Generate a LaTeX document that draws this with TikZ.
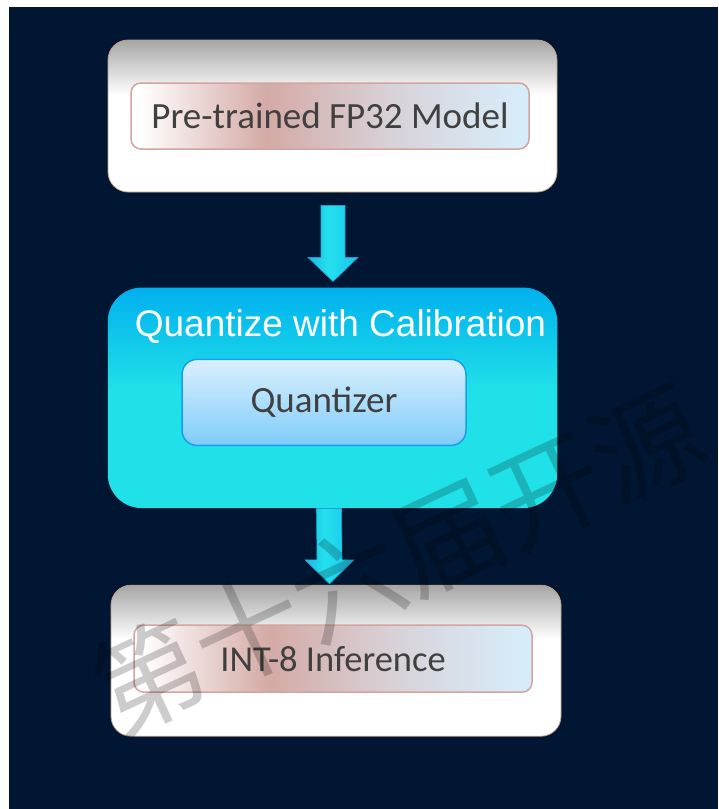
\documentclass[tikz,border=0pt]{standalone}
\usepackage{fontspec}
\setmainfont{Carlito}
\newfontfamily\titlefont{Liberation Sans}
\newfontfamily\cjkfont{Noto Sans CJK SC}
\usetikzlibrary{positioning, calc}

\definecolor{navy}{RGB}{0,22,50}
\definecolor{shadegray}{RGB}{166,166,166}
\definecolor{tanline}{RGB}{196,160,128}
\definecolor{rosy}{RGB}{212,170,165}
\definecolor{rosymid}{RGB}{216,208,214}
\definecolor{bluegray}{RGB}{216,224,234}
\definecolor{paleblue}{RGB}{214,238,250}
\definecolor{rosyline}{RGB}{212,164,160}
\definecolor{textgray}{RGB}{64,64,64}
\definecolor{cyantop}{RGB}{0,176,238}
\definecolor{cyanlow}{RGB}{32,224,232}
\definecolor{quanttop}{RGB}{218,240,252}
\definecolor{quantlow}{RGB}{128,204,250}
\definecolor{quantline}{RGB}{26,156,242}
\definecolor{arrowl}{RGB}{24,184,228}
\definecolor{arrowm}{RGB}{36,224,238}
\definecolor{arrowr}{RGB}{26,196,236}
\definecolor{arrowline}{RGB}{26,168,220}

\pgfdeclareverticalshading{outershade}{100bp}{color(0bp)=(white); color(57bp)=(white); color(75bp)=(shadegray); color(100bp)=(shadegray)}
\pgfdeclarehorizontalshading{labelshade}{100bp}{color(0bp)=(white); color(26bp)=(white); color(42bp)=(rosy); color(57bp)=(rosymid); color(66bp)=(bluegray); color(75bp)=(paleblue); color(100bp)=(paleblue)}
\pgfdeclareverticalshading{calibshade}{100bp}{color(0bp)=(cyanlow); color(52bp)=(cyanlow); color(75bp)=(cyantop); color(100bp)=(cyantop)}
\pgfdeclareverticalshading{quantshade}{100bp}{color(0bp)=(quantlow); color(25bp)=(quantlow); color(75bp)=(quanttop); color(100bp)=(quanttop)}
\pgfdeclarehorizontalshading{arrowshade}{100bp}{color(0bp)=(arrowl); color(25bp)=(arrowl); color(45bp)=(arrowm); color(75bp)=(arrowr); color(100bp)=(arrowr)}

\begin{document}
\begin{tikzpicture}[x=1pt, y=1pt,
    outerbox/.style={shading=outershade, draw=tanline, line width=0.8pt, rounded corners=20pt, minimum width=449pt, minimum height=152pt},
    labelbox/.style={shading=labelshade, draw=rosyline, line width=1.5pt, rounded corners=10pt, minimum width=398pt, minimum height=66pt, text=textgray, font=\fontsize{37}{44}\selectfont},
    calibbox/.style={shading=calibshade, rounded corners=34pt, minimum width=449.5pt, minimum height=220.5pt},
    quantbox/.style={shading=quantshade, draw=quantline, line width=1.5pt, rounded corners=15pt, minimum width=284pt, minimum height=86pt, text=textgray, font=\fontsize{37}{44}\selectfont},
    titletext/.style={text=white, font=\titlefont\fontsize{37}{44}\selectfont},
    flowarrow/.style={shading=arrowshade, draw=arrowline, line width=0.6pt}]
    \useasboundingbox (0,0) rectangle (718,-809);
    \fill[white] (0,0) rectangle (718,-809);
    \fill[navy] (9,-7) rectangle (718,-809);
    % boxes
    \node[outerbox] (model) at (332.5,-116) {};
    \node[labelbox] (modeltxt) at ([xshift=-2.5pt]model.center) {Pre-trained FP32 Model};
    \node[calibbox, below=95pt of model] (calib) {};
    \node[titletext] (title) at ([xshift=8pt,yshift=-39pt]calib.north) {Quantize with Calibration};
    \node[quantbox] (quant) at ([xshift=-8.5pt,yshift=-115pt]calib.north) {Quantizer};
    \node[outerbox, minimum width=450pt, minimum height=151pt, below=76.5pt of calib, xshift=3.5pt] (infer) {};
    \node[labelbox, minimum height=67pt, font=\fontsize{36.5}{44}\selectfont] (infertxt) at ([xshift=-3pt,yshift=2pt]infer.center) {INT-8 Inference};
    % block arrows
    \coordinate (a1top) at ([xshift=0.5pt,yshift=-13pt]model.south);
    \coordinate (a1tip) at ([xshift=0.5pt,yshift=6pt]calib.north);
    \shade[flowarrow] ($(a1top)+(-12,0)$) -- ($(a1top)+(12,0)$) -- ($(a1tip)+(12,24)$) -- ($(a1tip)+(25,24)$)
        -- (a1tip) -- ($(a1tip)+(-25,24)$) -- ($(a1tip)+(-12,24)$) -- cycle;
    \coordinate (a2top) at ([xshift=-3.5pt]calib.south);
    \coordinate (a2tip) at ([xshift=-6.5pt,yshift=1pt]infer.north);
    \shade[flowarrow] ($(a2top)+(-12.5,0)$) -- ($(a2top)+(12.5,0)$) -- ($(a2tip)+(12.5,24)$) -- ($(a2tip)+(24.5,24)$)
        -- (a2tip) -- ($(a2tip)+(-24.5,24)$) -- ($(a2tip)+(-12.5,24)$) -- cycle;
    % watermark
    \begin{scope}
        \clip (9,-7) rectangle (718,-809);
        \node[rotate=25, text=black, text opacity=0.2, font=\cjkfont\fontsize{110}{110}\selectfont] (mark) at (397.5,-560) {第十六届开源};
    \end{scope}
\end{tikzpicture}
\end{document}
